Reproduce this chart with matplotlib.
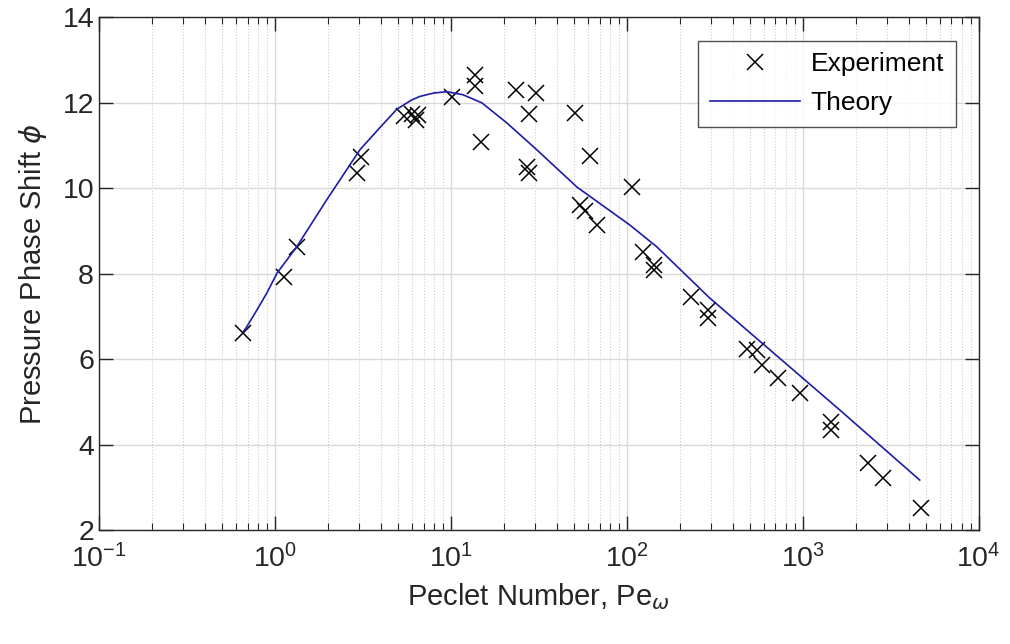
import numpy as np
import matplotlib.pyplot as plt
from matplotlib.ticker import LogLocator, NullFormatter, NullLocator

plt.rcParams['font.family'] = ['Liberation Sans', 'DejaVu Sans']
plt.rcParams['mathtext.fontset'] = 'dejavusans'
plt.rcParams['axes.unicode_minus'] = False

# experiment points (Pe_w, phase shift)
exp_pe = [0.658, 1.125, 1.33, 2.92, 3.08, 5.4, 6.0, 6.3, 6.5, 10.1,
          13.7, 13.7, 14.8, 23.4, 30.4, 27.7, 27.0, 27.7, 50.7, 61.6,
          106.7, 54.1, 57.7, 67.6, 123, 142, 142, 231, 289, 289,
          481, 548, 585, 721, 961, 1443, 1443, 2340, 2850, 4680]
exp_phi = [6.61, 7.93, 8.63, 10.36, 10.74, 11.70, 11.75, 11.60, 11.72, 12.14,
           12.66, 12.40, 11.09, 12.30, 12.23, 11.74, 10.50, 10.36, 11.77, 10.76,
           10.03, 9.61, 9.47, 9.14, 8.51, 8.21, 8.09, 7.46, 7.15, 6.97,
           6.24, 6.22, 5.86, 5.56, 5.21, 4.53, 4.34, 3.57, 3.22, 2.52]

# theory curve
th_pe = [0.66, 0.69, 0.79, 0.90, 1.03, 1.33, 1.97, 3.04, 3.95, 4.93, 6.0,
         6.67, 8.0, 9.5, 11.7, 15.0, 20.8, 30.8, 52, 104, 148, 296, 1623, 4620]
th_phi = [6.64, 6.75, 7.15, 7.55, 8.02, 8.63, 9.73, 10.9, 11.42, 11.85, 12.07,
          12.15, 12.23, 12.26, 12.19, 12.0, 11.53, 10.9, 10.03, 9.14, 8.63, 7.43,
          4.81, 3.17]

fig = plt.figure(figsize=(10.1, 6.44), dpi=100)
ax = fig.add_axes([0.098, 0.177, 0.871, 0.796])

ax.plot(exp_pe, exp_phi, 'x', color='black', markersize=11, markeredgewidth=1.1,
        label='Experiment')
ax.plot(th_pe, th_phi, '-', color='#1c1ca8', linewidth=1.2, label='Theory')

ax.set_xscale('log')
ax.set_xlim(0.1, 1e4)
ax.set_ylim(2, 14)
ax.set_yticks([2, 4, 6, 8, 10, 12, 14])
ax.xaxis.set_major_locator(LogLocator(base=10, numticks=10))
ax.xaxis.set_minor_locator(LogLocator(base=10, subs=np.arange(2, 10), numticks=100))
ax.xaxis.set_minor_formatter(NullFormatter())
ax.yaxis.set_minor_locator(NullLocator())

ax.grid(True, which='major', color='#d9d9d9', linewidth=1.0, linestyle='-')
ax.grid(True, which='minor', axis='x', color='#cccccc', linewidth=0.8, linestyle=':')
ax.set_axisbelow(True)

ax.tick_params(which='both', direction='in', top=True, right=True,
               colors='#262626', labelcolor='#262626', labelsize=20.5)
ax.tick_params(which='major', length=10, width=1)
ax.tick_params(which='minor', length=5, width=0.8)
ax.tick_params(axis='x', pad=10)
for s in ax.spines.values():
    s.set_color('#262626')
    s.set_linewidth(1.0)

ax.set_xlabel(r'Peclet Number, Pe$_{\omega}$', fontsize=21, color='#262626', labelpad=6)
ax.set_ylabel(r'Pressure Phase Shift $\phi$', fontsize=21, color='#262626', labelpad=10)

leg = ax.legend(loc='upper right', bbox_to_anchor=(0.98, 0.965), fontsize=19,
                frameon=True, fancybox=False, edgecolor='#262626',
                handlelength=3.4, borderpad=0.45, labelspacing=0.55,
                handletextpad=0.4, borderaxespad=0.2)
leg.get_frame().set_linewidth(1.0)

fig.savefig('out.png', dpi=100)
